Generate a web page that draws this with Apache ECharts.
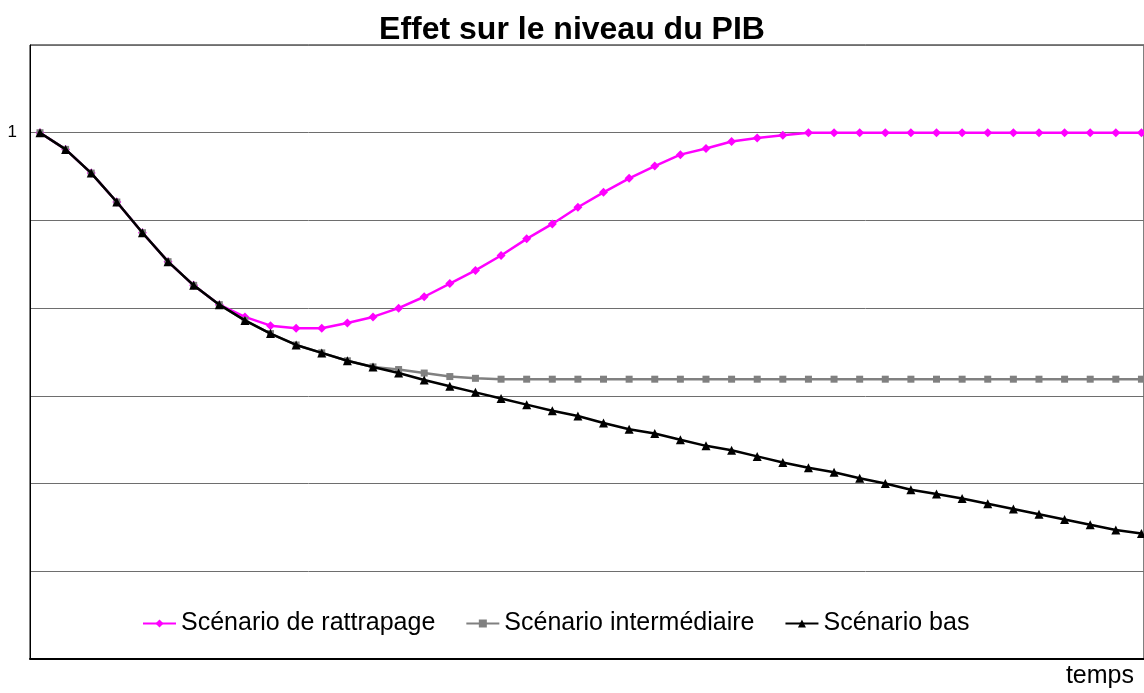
<!DOCTYPE html>
<html>
<head>
<meta charset="utf-8">
<title>Effet sur le niveau du PIB</title>
<script src="https://cdn.jsdelivr.net/npm/echarts@6/dist/echarts.min.js"></script>
<style>
  html, body { margin: 0; padding: 0; background: #fff; }
  #chart { width: 1144px; height: 693px; }
</style>
</head>
<body>
<div id="chart"></div>
<script>
// periods (time steps, no labels on the axis)
const periods = Array.from({ length: 44 }, (_, i) => i)

const seriesNames = ['Scénario de rattrapage', 'Scénario intermédiaire', 'Scénario bas']

// the three scenarios share the same start (index 0..7)
const rattrapage = [
  1.000, 0.981, 0.954, 0.921, 0.886, 0.853, 0.826, 0.804, 0.790, 0.780,
  0.777, 0.777, 0.783, 0.790, 0.800, 0.813, 0.828, 0.843, 0.860, 0.879,
  0.896, 0.915, 0.932, 0.948, 0.962, 0.975, 0.982, 0.990, 0.994, 0.997,
  1.000, 1.000, 1.000, 1.000, 1.000, 1.000, 1.000, 1.000, 1.000, 1.000,
  1.000, 1.000, 1.000, 1.000
]

const intermediaire = [
  1.000, 0.981, 0.954, 0.921, 0.886, 0.853, 0.826, 0.804, 0.786, 0.771,
  0.758, 0.749, 0.740, 0.733, 0.730, 0.726, 0.722, 0.720, 0.719, 0.719,
  0.719, 0.719, 0.719, 0.719, 0.719, 0.719, 0.719, 0.719, 0.719, 0.719,
  0.719, 0.719, 0.719, 0.719, 0.719, 0.719, 0.719, 0.719, 0.719, 0.719,
  0.719, 0.719, 0.719, 0.719
]

const bas = [
  1.000, 0.981, 0.954, 0.921, 0.886, 0.853, 0.826, 0.804, 0.786, 0.771,
  0.758, 0.749, 0.740, 0.733, 0.726, 0.718, 0.711, 0.704, 0.697, 0.690,
  0.683, 0.677, 0.669, 0.662, 0.657, 0.650, 0.643, 0.638, 0.631, 0.624,
  0.618, 0.613, 0.606, 0.600, 0.593, 0.588, 0.583, 0.577, 0.571, 0.565,
  0.559, 0.553, 0.547, 0.543
]

const yTickLabels = ['1']

function pairs(values) {
  return periods.map((p, i) => [p, values[i]])
}

const font = 'Liberation Sans, Arial, sans-serif'

const option = {
  animation: false,
  backgroundColor: '#fff',
  title: {
    text: 'Effet sur le niveau du PIB',
    left: 'center',
    top: 9,
    textStyle: {
      fontFamily: font,
      fontSize: 32,
      fontWeight: 'bold',
      color: '#000'
    }
  },
  grid: {
    left: 30,
    right: -2,
    top: 45,
    bottom: 34,
    show: true,
    borderColor: '#000',
    borderWidth: 1
  },
  legend: {
    top: 606,
    left: 137,
    itemWidth: 33,
    itemHeight: 10,
    itemGap: 30,
    data: seriesNames,
    textStyle: {
      fontFamily: font,
      fontSize: 25,
      color: '#000'
    }
  },
  xAxis: {
    type: 'value',
    min: -0.39,
    max: 43.1,
    axisLine: { show: true, onZero: false, lineStyle: { color: '#000', width: 2 } },
    axisTick: { show: false },
    axisLabel: { show: false },
    splitLine: { show: false }
  },
  yAxis: {
    type: 'value',
    min: 0.4,
    max: 1.1,
    interval: 0.1,
    axisLine: { show: true, onZero: false, lineStyle: { color: '#000', width: 1 } },
    axisTick: { show: false },
    axisLabel: {
      margin: 13,
      fontFamily: font,
      fontSize: 17,
      color: '#000',
      formatter: v => (Math.abs(v - 1) < 1e-9 ? yTickLabels[0] : '')
    },
    splitLine: { show: true, lineStyle: { color: '#6e6e6e', width: 1 } }
  },
  graphic: [
    {
      type: 'text',
      right: 10,
      top: 664,
      style: {
        text: 'temps',
        fontFamily: font,
        fontSize: 25,
        fill: '#000'
      }
    }
  ],
  series: [
    {
      name: seriesNames[2],
      type: 'line',
      data: pairs(bas),
      symbol: 'triangle',
      symbolSize: 9,
      z: 3,
      itemStyle: { color: '#000' },
      lineStyle: { color: '#000', width: 2.5 }
    },
    {
      name: seriesNames[1],
      type: 'line',
      data: pairs(intermediaire),
      symbol: 'rect',
      symbolSize: 7,
      z: 2,
      itemStyle: { color: '#808080' },
      lineStyle: { color: '#808080', width: 2.5 }
    },
    {
      name: seriesNames[0],
      type: 'line',
      data: pairs(rattrapage),
      symbol: 'diamond',
      symbolSize: 9,
      z: 1,
      itemStyle: { color: '#ff00ff' },
      lineStyle: { color: '#ff00ff', width: 2.5 }
    }
  ]
}

const myChart = echarts.init(document.getElementById('chart'))
myChart.setOption(option)
</script>
</body>
</html>
